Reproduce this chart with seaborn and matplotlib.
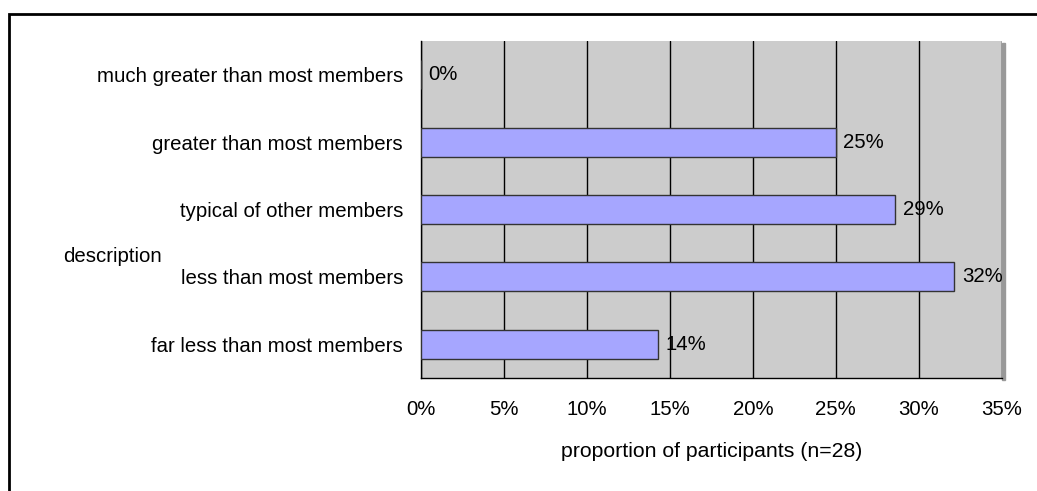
import numpy as np
import pandas as pd
import matplotlib
matplotlib.use('Agg')
import matplotlib.pyplot as plt
import seaborn as sns
from matplotlib.patches import Rectangle
from matplotlib.ticker import PercentFormatter

# data: responses out of n=28
categories = ['much greater than most members',
              'greater than most members',
              'typical of other members',
              'less than most members',
              'far less than most members']
proportions = [0.0, 0.25, 0.2857, 0.3214, 0.1429]
value_labels = ['0%', '25%', '29%', '32%', '14%']
x_ticks = [0.0, 0.05, 0.10, 0.15, 0.20, 0.25, 0.30, 0.35]

df = pd.DataFrame({'description': categories, 'proportion': proportions})

sns.set_style('white')
plt.rcParams['font.family'] = ['Liberation Sans', 'DejaVu Sans']
plt.rcParams['text.color'] = 'black'
plt.rcParams['axes.labelcolor'] = 'black'
plt.rcParams['xtick.color'] = 'black'
plt.rcParams['ytick.color'] = 'black'
fs = 14.7

fig = plt.figure(figsize=(10.37, 4.91), dpi=100)
ax = fig.add_axes([0.406, 0.230, 0.560, 0.6865])
ax.set_facecolor('#cccccc')

sns.barplot(data=df, y='description', x='proportion', orient='h',
            color='#a6a6ff', saturation=1, width=0.43,
            edgecolor='#333333', linewidth=1, ax=ax, zorder=3)

ax.set_xlim(0, 0.35)
ax.set_ylim(4.5, -0.5)
ax.set_xticks(x_ticks)
ax.xaxis.set_major_formatter(PercentFormatter(1.0, decimals=0))
ax.grid(axis='x', color='black', linewidth=1, zorder=1)
ax.set_axisbelow(True)

# category ticks sit between bars, labels at bar centres
ax.set_yticks(np.arange(-0.5, 5, 1))
ax.set_yticklabels([])
ax.set_yticks(range(len(categories)), minor=True)
ax.set_yticklabels(categories, minor=True, fontsize=fs)
ax.tick_params(axis='y', which='major', length=12, width=1, color='black', direction='out')
ax.tick_params(axis='y', which='minor', length=0, pad=13, labelcolor='black')
ax.tick_params(axis='x', length=6, width=1, color='black', direction='out', labelsize=fs,
               pad=10, labelcolor='black')

for s in ['top', 'right']:
    ax.spines[s].set_visible(False)
for s in ['left', 'bottom']:
    ax.spines[s].set_color('black')
    ax.spines[s].set_linewidth(1)

# plot-area shadow
ax.add_patch(Rectangle((1.0, -0.006), 0.005, 1.0, transform=ax.transAxes,
                       color='#999999', clip_on=False, zorder=0))

for i, (v, lab) in enumerate(zip(proportions, value_labels)):
    ax.text(v + 0.0045, i, lab, va='center', ha='left', fontsize=fs, color='black', zorder=4)

ax.set_ylabel('')
ax.set_xlabel('proportion of participants (n=28)', fontsize=15.3, labelpad=16, color='black')
fig.text(63 / 1037, 1 - 257 / 491, 'description', fontsize=fs, va='center', ha='left', color='black')

# chart border
fig.patches.append(Rectangle((8.5 / 1037, -0.05), 1.1, 1.05 - 14 / 491, transform=fig.transFigure,
                             fill=False, edgecolor='black', linewidth=2, figure=fig))

fig.savefig('out.png', dpi=100)
